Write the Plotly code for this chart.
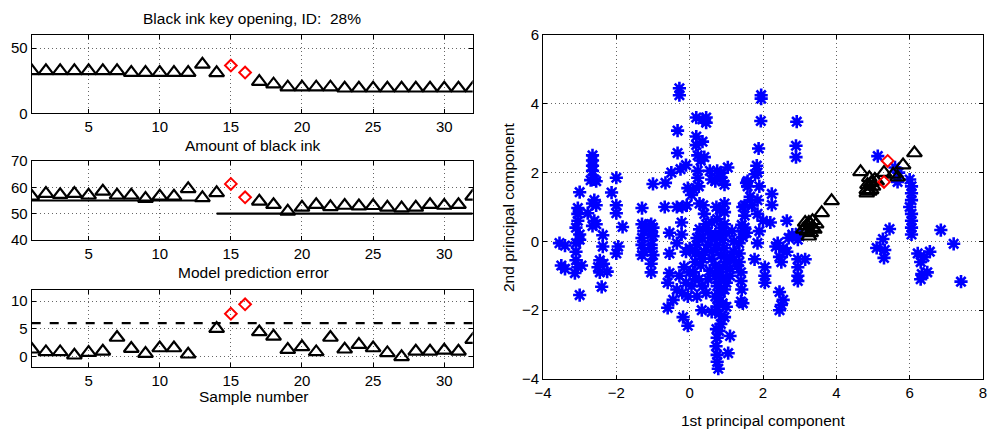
import plotly.graph_objects as go

W, H = 992, 429

# ---------------- data ----------------
samples = list(range(1, 33))
red_idx = [15, 16]

black_ink = [32.5, 32.5, 32.5, 32.5, 32.5, 32.5, 32.5, 31.2, 31.2, 31.2, 31.2, 31.2,
             37.5, 31.0, 36.6, 31.2, 24.3, 22.3, 20.0, 20.0, 20.0, 20.0, 19.2, 19.2,
             19.2, 19.2, 19.2, 19.2, 19.2, 19.2, 19.2, 19.2]

pred_err = [56.6, 57.6, 57.2, 57.6, 57.0, 58.5, 57.0, 57.0, 55.7, 56.6, 56.6, 59.4,
            56.0, 57.9, 61.3, 56.2, 54.7, 53.4, 50.9, 52.4, 53.4, 52.6, 53.1, 52.9,
            53.0, 52.4, 52.1, 52.4, 53.4, 53.1, 53.4, 56.6]
ref1_x = [1, 12.5]
ref1_y = [55, 55]
ref2_x = [14, 32]
ref2_y = [50, 50]

sample_val = [1.27, 0.78, 0.78, 0.18, 0.66, 0.9, 3.4, 1.4, 0.48, 1.5, 1.5, 0.36,
              None, 5.0, 7.7, 9.4, 4.4, 3.6, 1.2, 1.7, 0.78, 3.4, 1.27, 2.1,
              1.5, 0.6, -0.12, 0.9, 0.9, 1.08, 0.9, 3.0]
limit_x = [1, 32]
limit_y = [6, 6]

# PCA scores of background (blue) points
pc1 = [-3.55, -3.4, -3.5, -3.4, -3.13, -3.0, -3.1, -3.1, -3.1, -3.05, -2.95,
       -3.0, -3.05, -3.05, -3.05, -3.1, -3.0, -3.0, -2.78, -2.65, -2.65, -2.65, -2.65,
       -2.6, -2.55, -2.7, -2.6, -2.65, -2.55, -2.6, -2.65, -2.55, -2.37, -2.37, -2.45,
       -2.5, -2.45, -2.35, -2.25, -2.4, -2.0, -2.13, -2.0, -2.0, -1.83, -1.95, -2.0,
       -1.3, -1.3, -1.25, -1.3, -1.3, -1.25, -1.05, -1.05, -1.05, -1.05, -1.0, -1.05,
       -1.05, -1.2, -1.1, -1.3,
       -1.0, -0.66, -0.5, -0.25, -0.33, -0.33, -0.28, -0.28, -0.1,
       -0.68, -0.35, -0.2, -0.08, -0.05, 0.05, 0.1,
       -1.0, -1.0, -0.55, -0.22, -0.22,
       -1.05, -0.55, -0.35, -0.1, 0.0,
       -0.55, -0.6, -0.28, -0.1, -0.2, -0.05, -0.35, -0.45, -0.6, -0.18, -0.05,
       0.18, 0.35, 0.45, 0.45, 0.18, 0.18, 0.35, 0.22, 0.4, 0.3, 0.22, 0.22, 0.25,
       0.55, 0.75, 0.85, 0.7, 0.95, 0.6, 1.04, 0.85, 0.9,
       0.27, 0.37, 0.4, 0.73, 0.75, 0.82, 0.95, 0.95, 0.95, 1.45, 1.5, 1.55, 1.58, 1.58,
       0.27, 0.35, 0.2, 0.87, 0.9, 1.42, 1.45, 0.5, 0.6, 0.7, 0.45, 0.6, 0.85, 1.0,
       1.15, 1.2,
       0.2, 0.4, 0.6, 0.3, 0.5, 0.75, 0.85, 1.0, 1.2, 1.3, 0.8, 1.1, 1.35, 1.35, 1.35,
       0.65, 0.95, 1.1, 0.7, 0.9,
       0.1, 0.25, 0.35, 0.2, 0.45, 0.33, 0.6,
       0.8, 0.85, 0.9, 0.8, 0.85, 0.95, 1.0, 0.8, 1.0, 0.95,
       1.42, 1.4, 1.1, 0.73, 0.75, 0.72, 0.75, 0.75, 0.78, 1.05,
       0.7, 0.75, 0.7, 0.8, 0.75, 0.9, 1.1, 1.2, 0.55, 0.5, 0.35, 0.15, 0.15,
       -0.15, 0.0, 0.15, 0.05, 1.5, 1.45, 1.4, 1.4,
       1.95, 1.95, 1.94, 2.92, 1.88, 2.9, 2.9, 1.83, 1.85, 1.78, 1.9, 1.65, 1.85, 1.7,
       2.24, 2.24, 1.85, 2.0, 1.9, 2.2, 2.65, 1.5, 1.55, 2.8, 2.95, 2.7, 3.0, 1.85,
       2.4, 2.55, 2.45, 2.5, 2.65, 2.35, 1.77, 2.95, 3.15, 2.95, 2.95, 2.95, 2.05,
       2.05, 2.05, 2.45, 2.55, 2.45, 2.5, 1.45,
       5.13, 5.6, 5.7, 5.67, 6.0, 6.05, 6.05, 6.05, 6.0, 6.05, 6.05, 6.05, 6.05, 5.45,
       6.85, 5.27, 5.1, 5.32, 5.3, 7.2, 6.22, 6.4, 6.3, 6.55, 6.33, 6.48, 6.3, 7.4]
pc2 = [-0.05, -0.12, -0.7, -0.8, -0.92, -1.56, -0.05, -0.3, -0.55, -0.75, -0.7,
       1.43, 0.97, 0.8, 0.6, 0.4, 0.2, 0.05, 0.82, 2.5, 2.35, 2.2, 2.05,
       1.8, 1.75, 1.78, 1.2, 1.1, 1.05, 0.6, 0.45, 0.5, 0.18, -0.15, -0.55,
       -0.75, -0.9, -0.65, -0.88, -1.32, 1.85, 1.42, 1.05, 0.82, 0.42, -0.15, -0.35,
       0.97, 0.5, 0.3, 0.1, -0.1, -0.3, 0.5, 0.3, 0.2, -0.1, -0.4, -0.65,
       -0.9, 0.45, 0.45, -0.4,
       1.67, 1.7, 2.0, 2.1, 2.57, 3.22, 4.45, 4.25, 2.22,
       1.0, 1.0, 1.0, 1.05, 1.55, 1.35, 1.5,
       0.4, 0.15, 0.25, 0.55, 0.2,
       -0.2, -0.35, -0.05, -0.3, -0.2,
       -0.92, -1.2, -1.0, -1.2, -1.5, -1.6, -1.4, -1.7, -1.93, -2.2, -2.45,
       3.6, 3.55, 3.6, 3.45, 3.05, 2.8, 2.9, 2.5, 2.45, 2.35, 2.05, 1.85, 1.6,
       2.05, 2.05, 1.85, 1.75, 1.65, 1.8, 2.15, 2.0, 1.75,
       1.1, 1.05, 0.8, 1.0, 0.65, 0.92, 1.1, 0.85, 0.5, 1.0, 1.05, 1.7, 1.75, 1.6,
       0.35, 0.1, 0.1, 0.4, 0.05, 0.48, 0.13, 0.3, 0.1, 0.2, 0.5, 0.55, 0.2, 0.25,
       0.3, 0.0,
       -0.1, -0.3, -0.5, -0.7, -0.1, -0.1, -0.4, -0.6, -0.3, -0.7, -0.9, -1.0, -0.05,
       -0.35, -0.6, -0.25, -0.2, -0.45, -0.7, -0.75,
       -0.9, -1.1, -1.3, -1.6, -1.5, -2.0, -2.05,
       -1.2, -1.5, -1.8, -2.1, -2.4, -1.4, -1.9, -2.6, -1.2, -2.2,
       -1.4, -1.75, -2.75, -2.55, -2.8, -3.05, -3.3, -3.5, -3.7, -3.25,
       -1.0, -1.3, -1.6, -1.75, -1.9, -1.05, -0.8, -0.55, -0.85, -1.1, -0.5, -0.35,
       -0.6, -0.75, -0.9, -1.1, -1.3, 0.75, 0.3, -0.9, -1.15,
       4.25, 4.15, 3.5, 3.48, 2.7, 2.78, 2.45, 2.2, 2.0, 1.95, 1.6, 1.3, 1.2, 1.05,
       1.38, 1.06, 0.8, 0.6, 0.3, 0.55, 0.6, 0.4, 0.25, 0.2, 0.05, 0.1, 0.25, -0.05,
       -0.05, -0.2, -0.45, -0.6, -0.3, -0.15, -0.52, -0.52, -0.52, -0.75, -1.0, -1.15,
       -0.75, -1.0, -1.2, -1.47, -1.7, -2.0, -1.85, -1.8,
       2.48, 2.15, 2.0, 1.73, 1.8, 1.6, 1.4, 1.2, 1.0, 0.8, 0.6, 0.4, 0.2, 0.36,
       0.33, 0.07, -0.19, -0.25, -0.48, -0.07, -0.35, -0.45, -0.6, -0.3, -0.95, -0.9,
       -1.1, -1.17]

# PCA scores of the 32 samples (black = normal, red = samples 15, 16)
samp_pc1 = [3.1, 3.2, 3.25, 3.3, 3.35, 3.2, 3.3, 3.4, 3.25, 3.35, 3.45, 3.15, 3.6, 3.87,
            4.66, 4.83, 4.83, 4.9, 4.95, 5.0, 4.85, 5.05, 5.1, 4.95, 5.3, 5.67, 5.82,
            6.13, 5.55, 4.9]
samp_pc2 = [0.35, 0.45, 0.55, 0.5, 0.4, 0.3, 0.25, 0.35, 0.15, 0.6, 0.5, 0.55, 0.83, 1.18,
            2.02, 1.5, 1.4, 1.85, 1.7, 1.6, 1.65, 1.8, 1.75, 1.5, 2.0, 1.87, 2.22,
            2.57, 1.95, 1.45]
red_pc1 = [5.4, 5.3]
red_pc2 = [2.34, 1.73]

# ---------------- figure ----------------
FONT = "Liberation Sans, Arial, Helvetica, sans-serif"
TICK_SIZE = 15
LABEL_SIZE = 15.5

def split(vals):
    blk = [v if (i + 1) not in red_idx else None for i, v in enumerate(vals)]
    red = [vals[i - 1] for i in red_idx]
    return blk, red

fig = go.Figure()

tri = dict(symbol="triangle-up-open", size=13, color="black", line=dict(width=2.2, color="black"))
dia = dict(symbol="diamond-open", size=9, color="red", line=dict(width=2, color="red"))

# panel 1
b, r = split(black_ink)
fig.add_trace(go.Scatter(x=samples, y=b, mode="markers", marker=tri, xaxis="x", yaxis="y"))
fig.add_trace(go.Scatter(x=red_idx, y=r, mode="markers", marker=dia, xaxis="x", yaxis="y"))

# panel 2
fig.add_trace(go.Scatter(x=ref1_x, y=ref1_y, mode="lines", line=dict(color="black", width=2.2),
                         xaxis="x2", yaxis="y2"))
fig.add_trace(go.Scatter(x=ref2_x, y=ref2_y, mode="lines", line=dict(color="black", width=2.2),
                         xaxis="x2", yaxis="y2"))
b, r = split(pred_err)
fig.add_trace(go.Scatter(x=samples, y=b, mode="markers", marker=tri, xaxis="x2", yaxis="y2"))
fig.add_trace(go.Scatter(x=red_idx, y=r, mode="markers", marker=dia, xaxis="x2", yaxis="y2"))

# panel 3
fig.add_trace(go.Scatter(x=limit_x, y=limit_y, mode="lines",
                         line=dict(color="black", width=2.2, dash="dash"),
                         xaxis="x3", yaxis="y3"))
b, r = split(sample_val)
fig.add_trace(go.Scatter(x=samples, y=b, mode="markers", marker=tri, xaxis="x3", yaxis="y3"))
fig.add_trace(go.Scatter(x=red_idx, y=r, mode="markers", marker=dia, xaxis="x3", yaxis="y3"))

# right scatter
fig.add_trace(go.Scatter(x=pc1, y=pc2, mode="markers",
                         marker=dict(symbol="asterisk-open", size=11, color="#0000ff",
                                     line=dict(width=2.6, color="#0000ff")),
                         xaxis="x4", yaxis="y4"))
fig.add_trace(go.Scatter(x=samp_pc1, y=samp_pc2, mode="markers", marker=tri,
                         xaxis="x4", yaxis="y4"))
fig.add_trace(go.Scatter(x=red_pc1, y=red_pc2, mode="markers", marker=dia,
                         xaxis="x4", yaxis="y4"))

def ax(domain, rng, dtick, anchor, tickvals=None):
    d = dict(domain=domain, range=rng, showline=True, linecolor="black", linewidth=1,
             mirror="ticks", ticks="inside", ticklen=4, tickcolor="black",
             showgrid=True, gridcolor="#666666", griddash="1px,3px", gridwidth=1,
             zeroline=False, anchor=anchor, automargin=False,
             tickfont=dict(family=FONT, size=TICK_SIZE, color="black"))
    if tickvals is not None:
        d["tickmode"] = "array"
        d["tickvals"] = tickvals
    else:
        d["dtick"] = dtick
        d["tick0"] = 0
    return d

def px(v):
    return v / W

def py(v):
    return 1 - v / H

LX = [px(31.7), px(472.7)]
fig.update_layout(
    template="none",
    width=W, height=H, margin=dict(l=0, r=0, t=0, b=0, pad=0), autosize=False,
    plot_bgcolor="white", paper_bgcolor="white", showlegend=False,
    font=dict(family=FONT, size=TICK_SIZE, color="black"),
    xaxis=ax(LX, [1, 32], None, "y", tickvals=[5, 10, 15, 20, 25, 30]),
    yaxis=ax([py(113.3), py(35)], [0, 60], None, "x", tickvals=[0, 50]),
    xaxis2=ax(LX, [1, 32], None, "y2", tickvals=[5, 10, 15, 20, 25, 30]),
    yaxis2=ax([py(240), py(161)], [40, 70], None, "x2", tickvals=[40, 50, 60, 70]),
    xaxis3=ax(LX, [1, 32], None, "y3", tickvals=[5, 10, 15, 20, 25, 30]),
    yaxis3=ax([py(367.3), py(290)], [-2, 12], None, "x3", tickvals=[0, 5, 10]),
    xaxis4=ax([px(543), px(983)], [-4, 8], 2, "y4"),
    yaxis4=ax([py(379), py(35)], [-4, 6], 2, "x4"),
)

def ann(text, x, y, angle=0):
    return dict(text=text, x=x, y=y, xref="paper", yref="paper", showarrow=False,
                xanchor="center", yanchor="middle", textangle=angle,
                font=dict(family=FONT, size=LABEL_SIZE, color="black"))

fig.update_layout(annotations=[
    ann("Black ink key opening, ID:\u00a0 28%", px(252), py(18)),
    ann("Amount of black ink", px(253), py(145)),
    ann("Model prediction error", px(253), py(272)),
    ann("Sample number", px(253), py(396)),
    ann("1st principal component", px(763), py(420)),
    ann("2nd principal component", px(508), py(207), angle=-90),
])

fig.write_html(
    "out.html",
    config={"displayModeBar": False},
    post_script="document.body.style.margin='0';document.body.style.overflow='hidden';",
)
